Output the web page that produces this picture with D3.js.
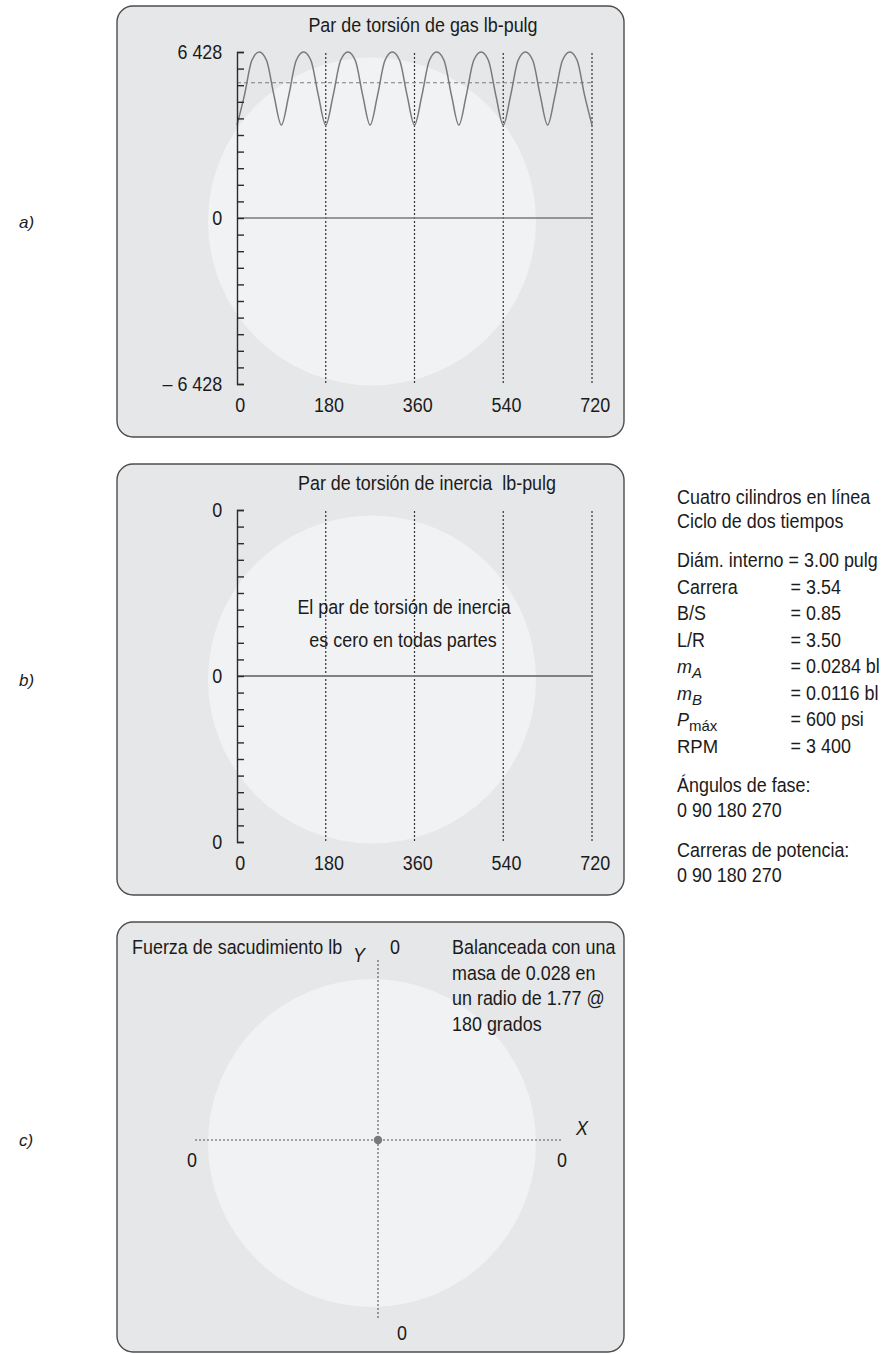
<!DOCTYPE html>
<html>
<head>
<meta charset="utf-8">
<script src="https://cdn.jsdelivr.net/npm/d3@7"></script>
<style>
  html, body { margin: 0; padding: 0; background: #fff; }
  svg { display: block; }
  text { font-family: "Liberation Sans", Arial, sans-serif; fill: #1b1b1b; white-space: pre; }
</style>
</head>
<body>
<svg id="fig" width="889" height="1354"></svg>
<script>
// ---- data -------------------------------------------------------------
// crank angle (deg) at which the gas torque trace is sampled
const crankAngles = [
  0, 15, 30, 45, 60, 75, 90, 105, 120, 135, 150, 165, 180,
  195, 210, 225, 240, 255, 270, 285, 300, 315, 330, 345, 360,
  375, 390, 405, 420, 435, 450, 465, 480, 495, 510, 525, 540,
  555, 570, 585, 600, 615, 630, 645, 660, 675, 690, 705, 720
];
// gas torque, lb-in
const gasTorque = [
  3600, 4750, 6100, 6428, 6100, 4750, 3600, 4750, 6100, 6428, 6100, 4750, 3600,
  4750, 6100, 6428, 6100, 4750, 3600, 4750, 6100, 6428, 6100, 4750, 3600,
  4750, 6100, 6428, 6100, 4750, 3600, 4750, 6100, 6428, 6100, 4750, 3600,
  4750, 6100, 6428, 6100, 4750, 3600, 4750, 6100, 6428, 6100, 4750, 3600
];
const gasTorqueMean = 5240;
const gasTorqueLimit = 6428;

// inertia torque, lb-in (zero everywhere)
const inertiaAngles = [0, 180, 360, 540, 720];
const inertiaTorque = [0, 0, 0, 0, 0];
const inertiaLimit = 1;

const angleTicks = [0, 180, 360, 540, 720];
const gasTickLabels = ["\u2013 6 428", "0", "6 428"];
const inertiaTickLabels = ["0", "0", "0"];

// shaking force, lb (balanced: a single point at the origin)
const shakingForceX = [0];
const shakingForceY = [0];
const shakingLimit = 1;
const shakingAxisLabels = ["0", "0", "0", "0"];   // -X, +X, +Y, -Y

const engineHeader = ["Cuatro cilindros en línea", "Ciclo de dos tiempos"];
const engineParams = [
  ["Carrera", "= 3.54"],
  ["B/S", "= 0.85"],
  ["L/R", "= 3.50"],
  ["m|A", "= 0.0284 bl"],
  ["m|B", "= 0.0116 bl"],
  ["P|máx", "= 600 psi"],
  ["RPM", "= 3 400"]
];
const phaseAngles = [0, 90, 180, 270];
const powerStrokes = [0, 90, 180, 270];
const balanceNote = ["Balanceada con una", "masa de 0.028 en", "un radio de 1.77 @", "180 grados"];

// ---- layout -----------------------------------------------------------
const svg = d3.select("#fig");
const FS = 19.5;          // type size
const SQZ = 0.92;         // horizontal squeeze for a condensed look
const PANEL_X = 117, PANEL_W = 507, RX = 16;
const panelFill = "#e6e7e8", discFill = "#f1f2f3", frame = "#4d4d4d";
const ink = "#2b2b2b", traceGray = "#7a7a7a";
const GEO = "DejaVu Sans";

function panelFrame(top, h, cy) {
  svg.append("rect")
    .attr("x", PANEL_X).attr("y", top).attr("width", PANEL_W).attr("height", h)
    .attr("rx", RX).attr("ry", RX)
    .attr("fill", panelFill).attr("stroke", frame).attr("stroke-width", 1.4);
  svg.append("circle")
    .attr("cx", 372).attr("cy", cy).attr("r", 164)
    .attr("fill", discFill);
}

// condensed text placed at (x, y)
function txt(g, x, y, s, anchor) {
  return g.append("text")
    .attr("transform", `translate(${x},${y}) scale(${SQZ},1)`)
    .attr("font-size", FS)
    .attr("text-anchor", anchor || "start").text(s);
}

function torquePanel(top, cfg) {
  panelFrame(top, 431, top + 215.5);
  const g = svg.append("g");

  const x = d3.scaleLinear().domain([0, 720]).range([237, 592]);
  const y = d3.scaleLinear().domain([-cfg.limit, cfg.limit]).range([top + 378, top + 46]);

  // dotted crank-angle guides
  g.selectAll("line.guide").data(angleTicks.slice(1)).join("line")
    .attr("class", "guide")
    .attr("x1", d => x(d)).attr("x2", d => x(d))
    .attr("y1", top + 47).attr("y2", top + 378)
    .attr("stroke", "#333").attr("stroke-width", 1.2)
    .attr("stroke-dasharray", "2,2");

  // zero line
  g.append("line")
    .attr("x1", x(0)).attr("x2", x(720))
    .attr("y1", y(0)).attr("y2", y(0))
    .attr("stroke", traceGray).attr("stroke-width", 1.6);

  if (cfg.mean !== undefined) {
    g.append("line")
      .attr("x1", x(0)).attr("x2", x(720))
      .attr("y1", y(cfg.mean)).attr("y2", y(cfg.mean))
      .attr("stroke", "#7d7d7d").attr("stroke-width", 1.1)
      .attr("stroke-dasharray", "4,3");
  }

  // trace
  const pts = cfg.angles.map((a, i) => [a, cfg.values[i]]);
  g.append("path").datum(pts)
    .attr("fill", "none").attr("stroke", traceGray).attr("stroke-width", 1.5)
    .attr("d", d3.line().x(d => x(d[0])).y(d => y(d[1])).curve(d3.curveMonotoneX));

  // y axis: bracket with inward ticks
  const step = cfg.limit / 10;
  const tv = d3.range(-10, 11).map(k => k * step);
  const ay = g.append("g").attr("transform", `translate(${x(0)},0)`)
    .call(d3.axisRight(y).tickValues(tv).tickSizeInner(7).tickSizeOuter(7).tickFormat(""));
  ay.selectAll("path,line").attr("stroke", ink).attr("stroke-width", 1.4);

  // y labels
  const yl = g.append("g").attr("transform", `translate(${x(0)},0)`)
    .call(d3.axisLeft(y).tickValues([-cfg.limit, 0, cfg.limit]).tickSize(0).tickPadding(16)
      .tickFormat((d, i) => cfg.tickLabels[i]));
  yl.select(".domain").remove();
  yl.selectAll("text").attr("font-size", FS).attr("font-family", null)
    .attr("fill", "#1b1b1b").attr("transform", `scale(${SQZ},1)`);

  // x labels
  const xl = g.append("g").attr("transform", `translate(0,${top + 378})`)
    .call(d3.axisBottom(x).tickValues(angleTicks).tickSize(0).tickPadding(14));
  xl.select(".domain").remove();
  xl.selectAll("text").attr("font-size", FS).attr("font-family", null)
    .attr("fill", "#1b1b1b").attr("dx", 3).attr("transform", `scale(${SQZ},1)`);

  txt(g, cfg.titleX, top + 26, cfg.title, "middle");
  return g;
}

// a) gas torque
torquePanel(6, {
  angles: crankAngles, values: gasTorque, limit: gasTorqueLimit, mean: gasTorqueMean,
  tickLabels: gasTickLabels, title: "Par de torsión de gas lb-pulg", titleX: 423
});

// b) inertia torque
const gb = torquePanel(464, {
  angles: inertiaAngles, values: inertiaTorque, limit: inertiaLimit,
  tickLabels: inertiaTickLabels, title: "Par de torsión de inercia  lb-pulg", titleX: 427
});
txt(gb, 404, 614, "El par de torsión de inercia", "middle");
txt(gb, 403, 647, "es cero en todas partes", "middle");

// c) shaking force polar plot
panelFrame(922, 430, 1143);
const gc = svg.append("g");
const xc = d3.scaleLinear().domain([-shakingLimit, shakingLimit]).range([195, 561]);
const yc = d3.scaleLinear().domain([-shakingLimit, shakingLimit]).range([1320, 960]);
gc.append("line")
  .attr("x1", xc(-shakingLimit)).attr("x2", xc(shakingLimit))
  .attr("y1", yc(0)).attr("y2", yc(0))
  .attr("stroke", "#555").attr("stroke-width", 1.1).attr("stroke-dasharray", "2,2");
gc.append("line")
  .attr("x1", xc(0)).attr("x2", xc(0))
  .attr("y1", yc(shakingLimit)).attr("y2", yc(-shakingLimit))
  .attr("stroke", "#555").attr("stroke-width", 1.1).attr("stroke-dasharray", "2,2");
gc.selectAll("circle.force").data(shakingForceX.map((v, i) => [v, shakingForceY[i]])).join("circle")
  .attr("class", "force")
  .attr("cx", d => xc(d[0])).attr("cy", d => yc(d[1])).attr("r", 4.2)
  .attr("fill", "#7a7a7a");

txt(gc, xc(-shakingLimit) - 3, yc(0) + 27, shakingAxisLabels[0], "middle");
txt(gc, xc(shakingLimit) + 1, yc(0) + 27, shakingAxisLabels[1], "middle");
txt(gc, xc(0) + 17, 954, shakingAxisLabels[2], "middle");
txt(gc, xc(0) + 24, 1340, shakingAxisLabels[3], "middle");
txt(gc, 132, 954, "Fuerza de sacudimiento lb");
txt(gc, 359, 962, "Y", "middle").attr("font-style", "italic");
txt(gc, 582, 1135, "X", "middle").attr("font-style", "italic");
balanceNote.forEach((s, i) => txt(gc, 452, 954 + i * 25.5, s));

// engine specification block
const gs = svg.append("g");
const SX = 677;
txt(gs, SX, 504, engineHeader[0]);
txt(gs, SX, 528, engineHeader[1]);
const bore = txt(gs, SX, 567, "Diám. interno ");
const eqX = SX + bore.node().getComputedTextLength() * SQZ;
txt(gs, eqX, 567, "= 3.00 pulg");
engineParams.forEach((p, i) => {
  const yy = 593.5 + i * 26.5;
  const parts = p[0].split("|");
  if (parts.length === 2) {
    const t = gs.append("text").attr("x", SX).attr("y", yy).attr("font-family", GEO);
    t.append("tspan").attr("font-style", "italic").attr("font-size", 18).text(parts[0]);
    t.append("tspan").attr("dy", 5).attr("font-size", 15)
      .attr("font-style", parts[1] === "máx" ? "normal" : "italic")
      .text(parts[1]);
  } else if (p[0] === "RPM") {
    gs.append("text").attr("x", SX).attr("y", yy).attr("font-family", GEO)
      .attr("font-size", 18.5).text(p[0]);
  } else {
    txt(gs, SX, yy, p[0]);
  }
  txt(gs, eqX + 2, yy, p[1]);
});
txt(gs, SX, 792, "Ángulos de fase:");
txt(gs, SX, 817, phaseAngles.join(" "));
txt(gs, SX, 857, "Carreras de potencia:");
txt(gs, SX, 882, powerStrokes.join(" "));

// panel letters
const gl = svg.append("g");
[["a)", 228], ["b)", 686], ["c)", 1146]].forEach(d => {
  gl.append("text").attr("x", 19).attr("y", d[1]).attr("font-size", 17)
    .attr("font-style", "italic").attr("font-family", GEO).attr("fill", "#333")
    .text(d[0]);
});
</script>
</body>
</html>
